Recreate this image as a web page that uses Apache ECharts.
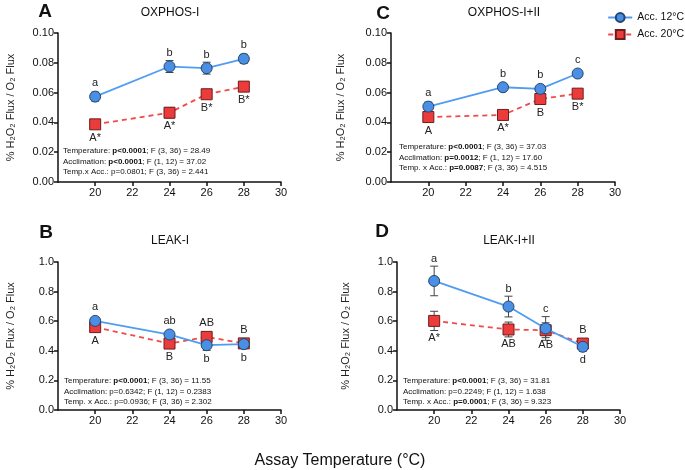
<!DOCTYPE html>
<html>
<head>
<meta charset="utf-8">
<script src="https://cdn.jsdelivr.net/npm/echarts@6/dist/echarts.min.js"></script>
<style>
  html, body { margin: 0; padding: 0; background: #fff; }
  #chart { width: 685px; height: 470px; }
</style>
</head>
<body>
<div id="chart"></div>
<script>
// 测定温度
const temps = [20, 24, 26, 28]
const xTicks = [20, 22, 24, 26, 28, 30]
const seriesNames = ['Acc. 12°C', 'Acc. 20°C']

// A: OXPHOS-I
const oxI12 = [0.0573, 0.0775, 0.0764, 0.0827]
const oxI12Err = [0.003, 0.004, 0.004, 0.003]
const oxI20 = [0.0387, 0.0465, 0.0589, 0.0640]
const oxI20Err = [0.001, 0.0035, 0.003, 0.003]
const oxI12Let = ['a', 'b', 'b', 'b']
const oxI20Let = ['A*', 'A*', 'B*', 'B*']

// C: OXPHOS-I+II
const oxII12 = [0.0506, 0.0636, 0.0625, 0.0728]
const oxII12Err = [0.003, 0.001, 0.0015, 0.001]
const oxII20 = [0.0436, 0.0450, 0.0557, 0.0593]
const oxII20Err = [0.0015, 0.001, 0.002, 0.0015]
const oxII12Let = ['a', 'b', 'b', 'c']
const oxII20Let = ['A', 'A*', 'B', 'B*']

// B: LEAK-I
const leakI12 = [0.602, 0.510, 0.438, 0.445]
const leakI12Err = [0.02, 0.02, 0.035, 0.015]
const leakI20 = [0.560, 0.449, 0.494, 0.450]
const leakI20Err = [0.02, 0.025, 0.02, 0.015]
const leakI12Let = ['a', 'ab', 'b', 'b']
const leakI20Let = ['A', 'B', 'AB', 'B']

// D: LEAK-I+II
const leakII12 = [0.872, 0.699, 0.551, 0.427]
const leakII12Err = [0.10, 0.07, 0.08, 0.03]
const leakII20 = [0.602, 0.544, 0.539, 0.449]
const leakII20Err = [0.065, 0.05, 0.05, 0.02]
const leakII12Let = ['a', 'b', 'c', 'd']
const leakII20Let = ['A*', 'AB', 'AB', 'B']

// 统计结果 (**加粗**)
const statsA = ['Temperature: **p<0.0001**; F (3, 36) = 28.49', 'Acclimation: **p<0.0001**; F (1, 12) = 37.02', 'Temp.x Acc.: p=0.0801; F (3, 36) = 2.441']
const statsC = ['Temperature: **p<0.0001**; F (3, 36) = 37.03', 'Acclimation: **p=0.0012**; F (1, 12) = 17.60', 'Temp. x Acc.: **p=0.0087**; F (3, 36) = 4.515']
const statsB = ['Temperature: **p<0.0001**; F (3, 36) = 11.55', 'Acclimation: p=0.6342; F (1, 12) = 0.2383', 'Temp. x Acc.: p=0.0936; F (3, 36) = 2.302']
const statsD = ['Temperature: **p<0.0001**; F (3, 36) = 31.81', 'Acclimation: p=0.2249; F (1, 12) = 1.638', 'Temp. x Acc.: **p=0.0001**; F (3, 36) = 9.323']

const panelTitles = ['OXPHOS-I', 'OXPHOS-I+II', 'LEAK-I', 'LEAK-I+II']
const panelLetters = ['A', 'C', 'B', 'D']
const yName = '% H₂O₂ Flux / O₂ Flux'
const xName = 'Assay Temperature (°C)'

const FONT = 'Liberation Sans, Arial, sans-serif'
const BLUE = '#4a8fe3'
const RED = '#ec3b3b'

let myChart = echarts.init(document.getElementById('chart'))

// 面板位置
const grids = [
  { left: 58, top: 33, width: 223, height: 149 },
  { left: 391, top: 33, width: 224, height: 149 },
  { left: 58, top: 262, width: 223, height: 148 },
  { left: 397, top: 262, width: 223, height: 148 },
]

const panels = [
  { a: oxI12, ae: oxI12Err, al: oxI12Let, b: oxI20, be: oxI20Err, bl: oxI20Let, max: 0.1, step: 0.02, dig: 2, gap: 42 },
  { a: oxII12, ae: oxII12Err, al: oxII12Let, b: oxII20, be: oxII20Err, bl: oxII20Let, max: 0.1, step: 0.02, dig: 2, gap: 45 },
  { a: leakI12, ae: leakI12Err, al: leakI12Let, b: leakI20, be: leakI20Err, bl: leakI20Let, max: 1, step: 0.2, dig: 1, gap: 42 },
  { a: leakII12, ae: leakII12Err, al: leakII12Let, b: leakII20, be: leakII20Err, bl: leakII20Let, max: 1, step: 0.2, dig: 1, gap: 46 },
]
const statsList = [statsA, statsC, statsB, statsD]

let axisLine = { show: true, lineStyle: { color: '#111', width: 1.5 } }
let axisTick = { show: true, length: 4, inside: false, lineStyle: { color: '#111', width: 1.5 } }

let xAxes = grids.map((g, i) => ({
  type: 'value', gridIndex: i, min: 18, max: 30, interval: 2,
  axisLine: axisLine,
  axisTick: Object.assign({}, axisTick, { customValues: xTicks }),
  axisLabel: { customValues: xTicks, color: '#111', fontSize: 11, fontFamily: FONT, margin: 5 },
  splitLine: { show: false },
}))

let yAxes = panels.map((p, i) => ({
  type: 'value', gridIndex: i, min: 0, max: p.max, interval: p.step,
  name: yName, nameLocation: 'middle', nameRotate: 90, nameGap: p.gap,
  nameTextStyle: { color: '#222', fontSize: 11, fontFamily: FONT },
  axisLine: axisLine, axisTick: axisTick,
  axisLabel: { color: '#111', fontSize: 11, fontFamily: FONT, margin: 4, formatter: v => v.toFixed(p.dig) },
  splitLine: { show: false },
}))

// 误差线 + 字母标注
let makeErr = (idx, vals, errs, letters, other) => ({
  type: 'custom', xAxisIndex: idx, yAxisIndex: idx, z: 1, clip: false, silent: true,
  data: temps.map((t, i) => [t, vals[i], errs[i]]),
  renderItem: (params, api) => {
    let i = params.dataIndex
    let x = api.value(0), y = api.value(1), e = api.value(2)
    let c = api.coord([x, y])
    let top = api.coord([x, y + e])
    let bot = api.coord([x, y - e])
    let st = { stroke: '#444', lineWidth: 1 }
    let up = vals[i] > other[i]
    let off = Math.max(c[1] - top[1], 6) + 2
    return {
      type: 'group',
      children: [
        { type: 'line', shape: { x1: c[0], y1: top[1], x2: c[0], y2: bot[1] }, style: st },
        { type: 'line', shape: { x1: c[0] - 4, y1: top[1], x2: c[0] + 4, y2: top[1] }, style: st },
        { type: 'line', shape: { x1: c[0] - 4, y1: bot[1], x2: c[0] + 4, y2: bot[1] }, style: st },
        {
          type: 'text', z2: 10,
          style: {
            text: letters[i], x: c[0], y: up ? c[1] - off : c[1] + off,
            align: 'center', verticalAlign: up ? 'bottom' : 'top',
            fill: '#222', fontSize: 11, fontFamily: FONT,
          },
        },
      ],
    }
  },
})

let series = []
panels.forEach((p, i) => {
  series.push(makeErr(i, p.a, p.ae, p.al, p.b))
  series.push(makeErr(i, p.b, p.be, p.bl, p.a))
  series.push({
    name: seriesNames[0], type: 'line', xAxisIndex: i, yAxisIndex: i, z: 3,
    data: temps.map((t, k) => [t, p.a[k]]),
    symbol: 'circle', symbolSize: 11,
    lineStyle: { color: '#4f9cf2', width: 1.8 },
    itemStyle: { color: BLUE, borderColor: '#23456e', borderWidth: 1 },
  })
  series.push({
    name: seriesNames[1], type: 'line', xAxisIndex: i, yAxisIndex: i, z: 2,
    data: temps.map((t, k) => [t, p.b[k]]),
    symbol: 'rect', symbolSize: 11,
    lineStyle: { color: '#f24a4a', width: 1.8, type: [5, 4] },
    itemStyle: { color: RED, borderColor: '#6e1d1d', borderWidth: 1 },
  })
})

// 文字: 面板字母、标题、统计
let toRich = s => s.replace(/\*\*(.+?)\*\*/g, '{b|$1}')
let titlePos = [[45, 12, 170, 13], [383, 14, 504, 13], [46, 233, 170, 241], [382, 232, 509, 241]]
let statsPos = [[63, 147], [399, 143], [64, 377], [403, 377]]

let graphic = []
titlePos.forEach((tp, i) => {
  graphic.push({ type: 'text', x: tp[0], y: tp[1], style: { text: panelLetters[i], font: 'bold 19px ' + FONT, fill: '#111', align: 'center', verticalAlign: 'middle' } })
  graphic.push({ type: 'text', x: tp[2], y: tp[3], style: { text: panelTitles[i], fontSize: 12, fontFamily: FONT, fill: '#111', align: 'center', verticalAlign: 'middle' } })
})
statsPos.forEach((sp, i) => {
  statsList[i].forEach((line, k) => {
    graphic.push({
      type: 'text', x: sp[0], y: sp[1] + k * 10.5,
      style: { text: toRich(line), fontSize: 8, fontFamily: FONT, fill: '#111', rich: { b: { fontWeight: 'bold', fontSize: 8, fontFamily: FONT } } },
    })
  })
})
graphic.push({ type: 'text', x: 340, y: 461, style: { text: xName, fontSize: 16, fontFamily: FONT, fill: '#111', align: 'center', verticalAlign: 'middle' } })

let options = {
  animation: false,
  backgroundColor: '#fff',
  grid: grids,
  xAxis: xAxes,
  yAxis: yAxes,
  legend: {
    data: seriesNames, orient: 'vertical', right: 1, top: 12, padding: 0,
    itemWidth: 24, itemHeight: 11, itemGap: 6,
    textStyle: { fontSize: 10.5, fontFamily: FONT, color: '#111', overflow: 'none' },
  },
  graphic: graphic,
  series: series,
}

myChart.setOption(options)
</script>
</body>
</html>
